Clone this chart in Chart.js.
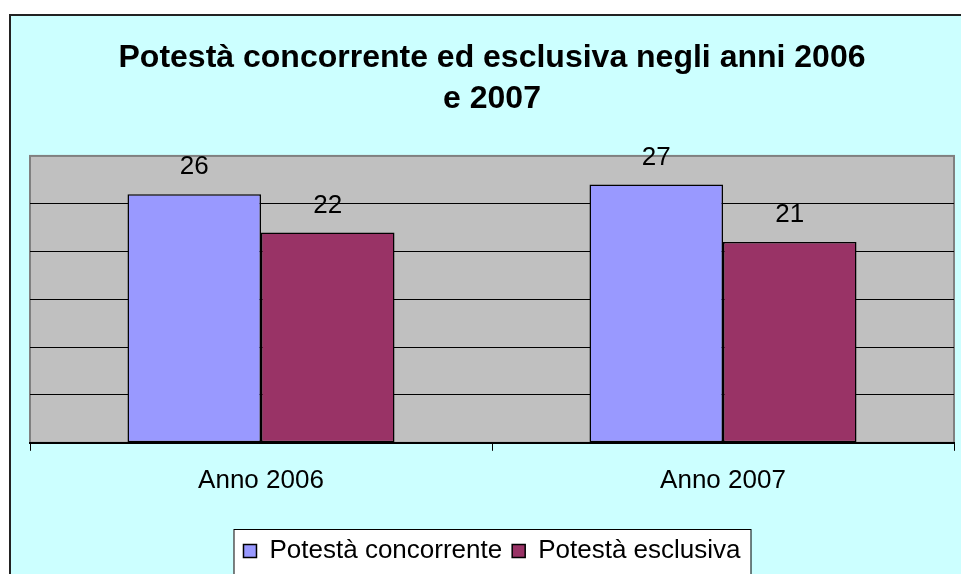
<!DOCTYPE html>
<html>
<head>
<meta charset="utf-8">
<script src="https://cdn.jsdelivr.net/npm/chart.js@4/dist/chart.umd.min.js"></script>
<style>
  html, body { margin: 0; padding: 0; background: #fff; overflow: hidden; }
  #frame {
    position: absolute; left: 9px; top: 14px;
    border-left: 2px solid #222; border-top: 2px solid #222;
    background: #CCFFFF; width: 970px; height: 600px;
  }
  #potesta { display: block; }
</style>
</head>
<body>
<div id="frame">
  <canvas id="potesta" width="960" height="580"></canvas>
</div>
<script>
// dati
const anni = ['Anno 2006', 'Anno 2007'];
const concorrente = [26, 27];
const esclusiva = [22, 21];
const titolo = ['Potestà concorrente ed esclusiva negli anni 2006', 'e 2007'];
const yMax = 30;
const yStep = 5;

const FONT = 'Arial, "Liberation Sans", sans-serif';

// sfondo grigio dell'area del grafico + riquadro della legenda
const sfondoPlugin = {
  id: 'sfondo',
  beforeDraw(chart) {
    const { ctx, chartArea: a } = chart;
    ctx.save();
    ctx.fillStyle = '#C0C0C0';
    ctx.fillRect(a.left, a.top, a.right - a.left, a.bottom - a.top);
    ctx.strokeStyle = '#808080';
    ctx.lineWidth = 2;
    ctx.strokeRect(a.left, a.top, a.right - a.left, a.bottom - a.top);

    const hb = chart.legend.legendHitBoxes;
    if (hb && hb.length) {
      const left = hb[0].left - 10;
      const last = hb[hb.length - 1];
      const right = last.left + last.width + 10;
      const top = hb[0].top - 9;
      ctx.fillStyle = '#FFFFFF';
      ctx.fillRect(left, top, right - left, 60);
      ctx.strokeStyle = '#000';
      ctx.lineWidth = 1;
      ctx.strokeRect(left + 0.5, top + 0.5, right - left, 60);
    }
    ctx.restore();
  }
};

// etichette con i valori sopra le barre
const valoriPlugin = {
  id: 'valori',
  afterDatasetsDraw(chart) {
    const { ctx } = chart;
    ctx.save();
    ctx.fillStyle = '#000';
    ctx.font = '26px ' + FONT;
    ctx.textAlign = 'center';
    ctx.textBaseline = 'middle';
    chart.data.datasets.forEach((ds, i) => {
      chart.getDatasetMeta(i).data.forEach((bar, j) => {
        ctx.fillText(String(ds.data[j]), bar.x, bar.y - 27);
      });
    });
    ctx.restore();
  }
};

new Chart(document.getElementById('potesta').getContext('2d'), {
  type: 'bar',
  data: {
    labels: anni,
    datasets: [
      {
        label: 'Potestà concorrente',
        data: concorrente,
        backgroundColor: '#9999FF',
        borderColor: '#000',
        borderWidth: 1.5,
        borderSkipped: false
      },
      {
        label: 'Potestà esclusiva',
        data: esclusiva,
        backgroundColor: '#993366',
        borderColor: '#000',
        borderWidth: 1.5,
        borderSkipped: false
      }
    ]
  },
  options: {
    responsive: false,
    animation: false,
    categoryPercentage: 0.578,
    barPercentage: 1,
    layout: { padding: { left: 19, right: 17, top: 0, bottom: 22 } },
    plugins: {
      title: {
        display: true,
        text: titolo,
        color: '#000',
        font: { family: FONT, size: 32, weight: 'bold', lineHeight: 1.28 },
        padding: { top: 22, bottom: 36 }
      },
      legend: {
        display: true,
        position: 'bottom',
        labels: {
          color: '#000',
          font: { family: FONT, size: 26 },
          boxWidth: 13,
          boxHeight: 13,
          padding: 10
        }
      },
      tooltip: { enabled: false }
    },
    scales: {
      x: {
        grid: {
          display: true,
          drawOnChartArea: false,
          drawTicks: true,
          tickLength: 8,
          color: '#000',
          offset: true
        },
        border: { display: true, color: '#000', width: 2 },
        ticks: {
          color: '#000',
          font: { family: FONT, size: 26 },
          padding: 14
        },
        afterFit(scale) { scale.height += 18; }
      },
      y: {
        min: 0,
        max: yMax,
        ticks: { display: false, stepSize: yStep },
        grid: {
          drawTicks: false,
          color: (c) => (c.tick && c.tick.value === yMax) ? 'rgba(0,0,0,0)' : '#000',
          lineWidth: 1
        },
        border: { display: false }
      }
    }
  },
  plugins: [sfondoPlugin, valoriPlugin]
});
</script>
</body>
</html>
